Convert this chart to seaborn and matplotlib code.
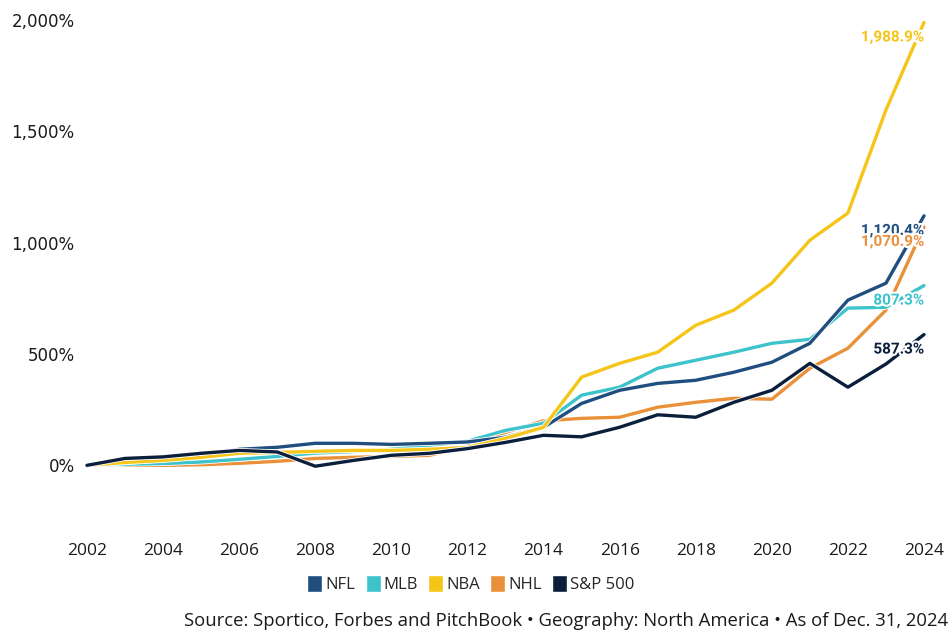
import matplotlib
matplotlib.use("Agg")
import matplotlib.pyplot as plt
import matplotlib.patheffects as pe
from matplotlib.patches import Patch
from matplotlib.ticker import FuncFormatter
import seaborn as sns
import pandas as pd

years = list(range(2002, 2025))
nfl = [0, 12, 25, 40, 72, 81, 99, 99, 94, 99, 105, 126, 171, 278, 337, 368, 382, 418, 463, 548, 742, 818, 1120.4]
mlb = [0, 5, 8, 15, 27, 40, 55, 62, 72, 90, 108, 157, 189, 315, 351, 436, 472, 508, 548, 566, 706, 710, 807.3]
nba = [0, 13, 22, 36, 54, 58, 63, 67, 67, 72, 80, 121, 171, 396, 458, 508, 629, 697, 818, 1011, 1133, 1596, 1988.9]
nhl = [0, 0, 0, 3, 9, 18, 31, 36, 40, 45, 85, 148, 200, 211, 216, 261, 283, 301, 297, 436, 526, 697, 1070.9]
sp500 = [0, 31, 38, 54, 67, 60, -4, 22, 45, 54, 75, 103, 135, 128, 171, 227, 216, 283, 337, 458, 351, 455, 587.3]

series_names = ["NFL", "MLB", "NBA", "NHL", "S&P 500"]
series_values = [nfl, mlb, nba, nhl, sp500]
end_labels = ["1,120.4%", "807.3%", "1,988.9%", "1,070.9%", "587.3%"]
colors = {"NFL": "#1f4e7f", "MLB": "#3cc3cb", "NBA": "#f5c518",
          "NHL": "#ea9038", "S&P 500": "#0b1f3d"}

df = pd.concat([pd.DataFrame({"year": years, "value": v, "series": n})
                for n, v in zip(series_names, series_values)], ignore_index=True)

sns.set_theme(style="white")
plt.rcParams["font.family"] = ["DejaVu Sans"]

fig = plt.figure(figsize=(9.52, 6.44), dpi=100)
ax = fig.add_axes([87 / 952, 123 / 644, (924 - 87) / 952, 501 / 644])

draw_order = ["NHL", "MLB", "NFL", "NBA", "S&P 500"]
for name in draw_order:
    sub = df[df["series"] == name]
    sns.lineplot(data=sub, x="year", y="value", color=colors[name], ax=ax,
                 linewidth=2.4, legend=False, clip_on=False,
                 path_effects=[pe.Stroke(linewidth=3.6, foreground="white"), pe.Normal()])

for name, vals, lab in zip(series_names, series_values, end_labels):
    ax.annotate(lab, xy=(years[-1], vals[-1]), xytext=(0, -15), textcoords="offset pixels",
                ha="right", va="center", color=colors[name], fontsize=11, fontweight="bold",
                family="Roboto",
                path_effects=[pe.withStroke(linewidth=3, foreground="white")], zorder=10)

ax.set_xlim(2002, 2024)
ax.set_ylim(-250, 2000)
ax.set_xticks(list(range(2002, 2025, 2)))
ax.set_yticks([0, 500, 1000, 1500, 2000])
ax.yaxis.set_major_formatter(FuncFormatter(lambda v, p: f"{int(v):,}%"))
ax.tick_params(axis="y", length=0, pad=9, labelsize=12, labelcolor="#1a1a1a")
ax.tick_params(axis="x", length=0, pad=16, labelsize=12.5, labelcolor="#1a1a1a")
for t in ax.get_xticklabels():
    t.set_family("Open Sans")
ax.set_xlabel("")
ax.set_ylabel("")
for s in ax.spines.values():
    s.set_visible(False)
ax.grid(False)

handles = [Patch(facecolor=colors[n], edgecolor="white", label=n) for n in series_names]
fig.legend(handles=handles, loc="center", bbox_to_anchor=(471 / 952, 1 - 584 / 644), ncol=5,
           frameon=False, handlelength=0.9, handleheight=1.15, handletextpad=0.2,
           columnspacing=0.6,
           prop={"family": "Open Sans", "size": 12})

fig.text(948 / 952, 1 - 621 / 644,
         "Source: Sportico, Forbes and PitchBook \u2022 Geography: North America \u2022 As of Dec. 31, 2024",
         ha="right", va="center", fontsize=13.3, family="Open Sans", color="#1a1a1a")

fig.savefig("out.png", dpi=100)
